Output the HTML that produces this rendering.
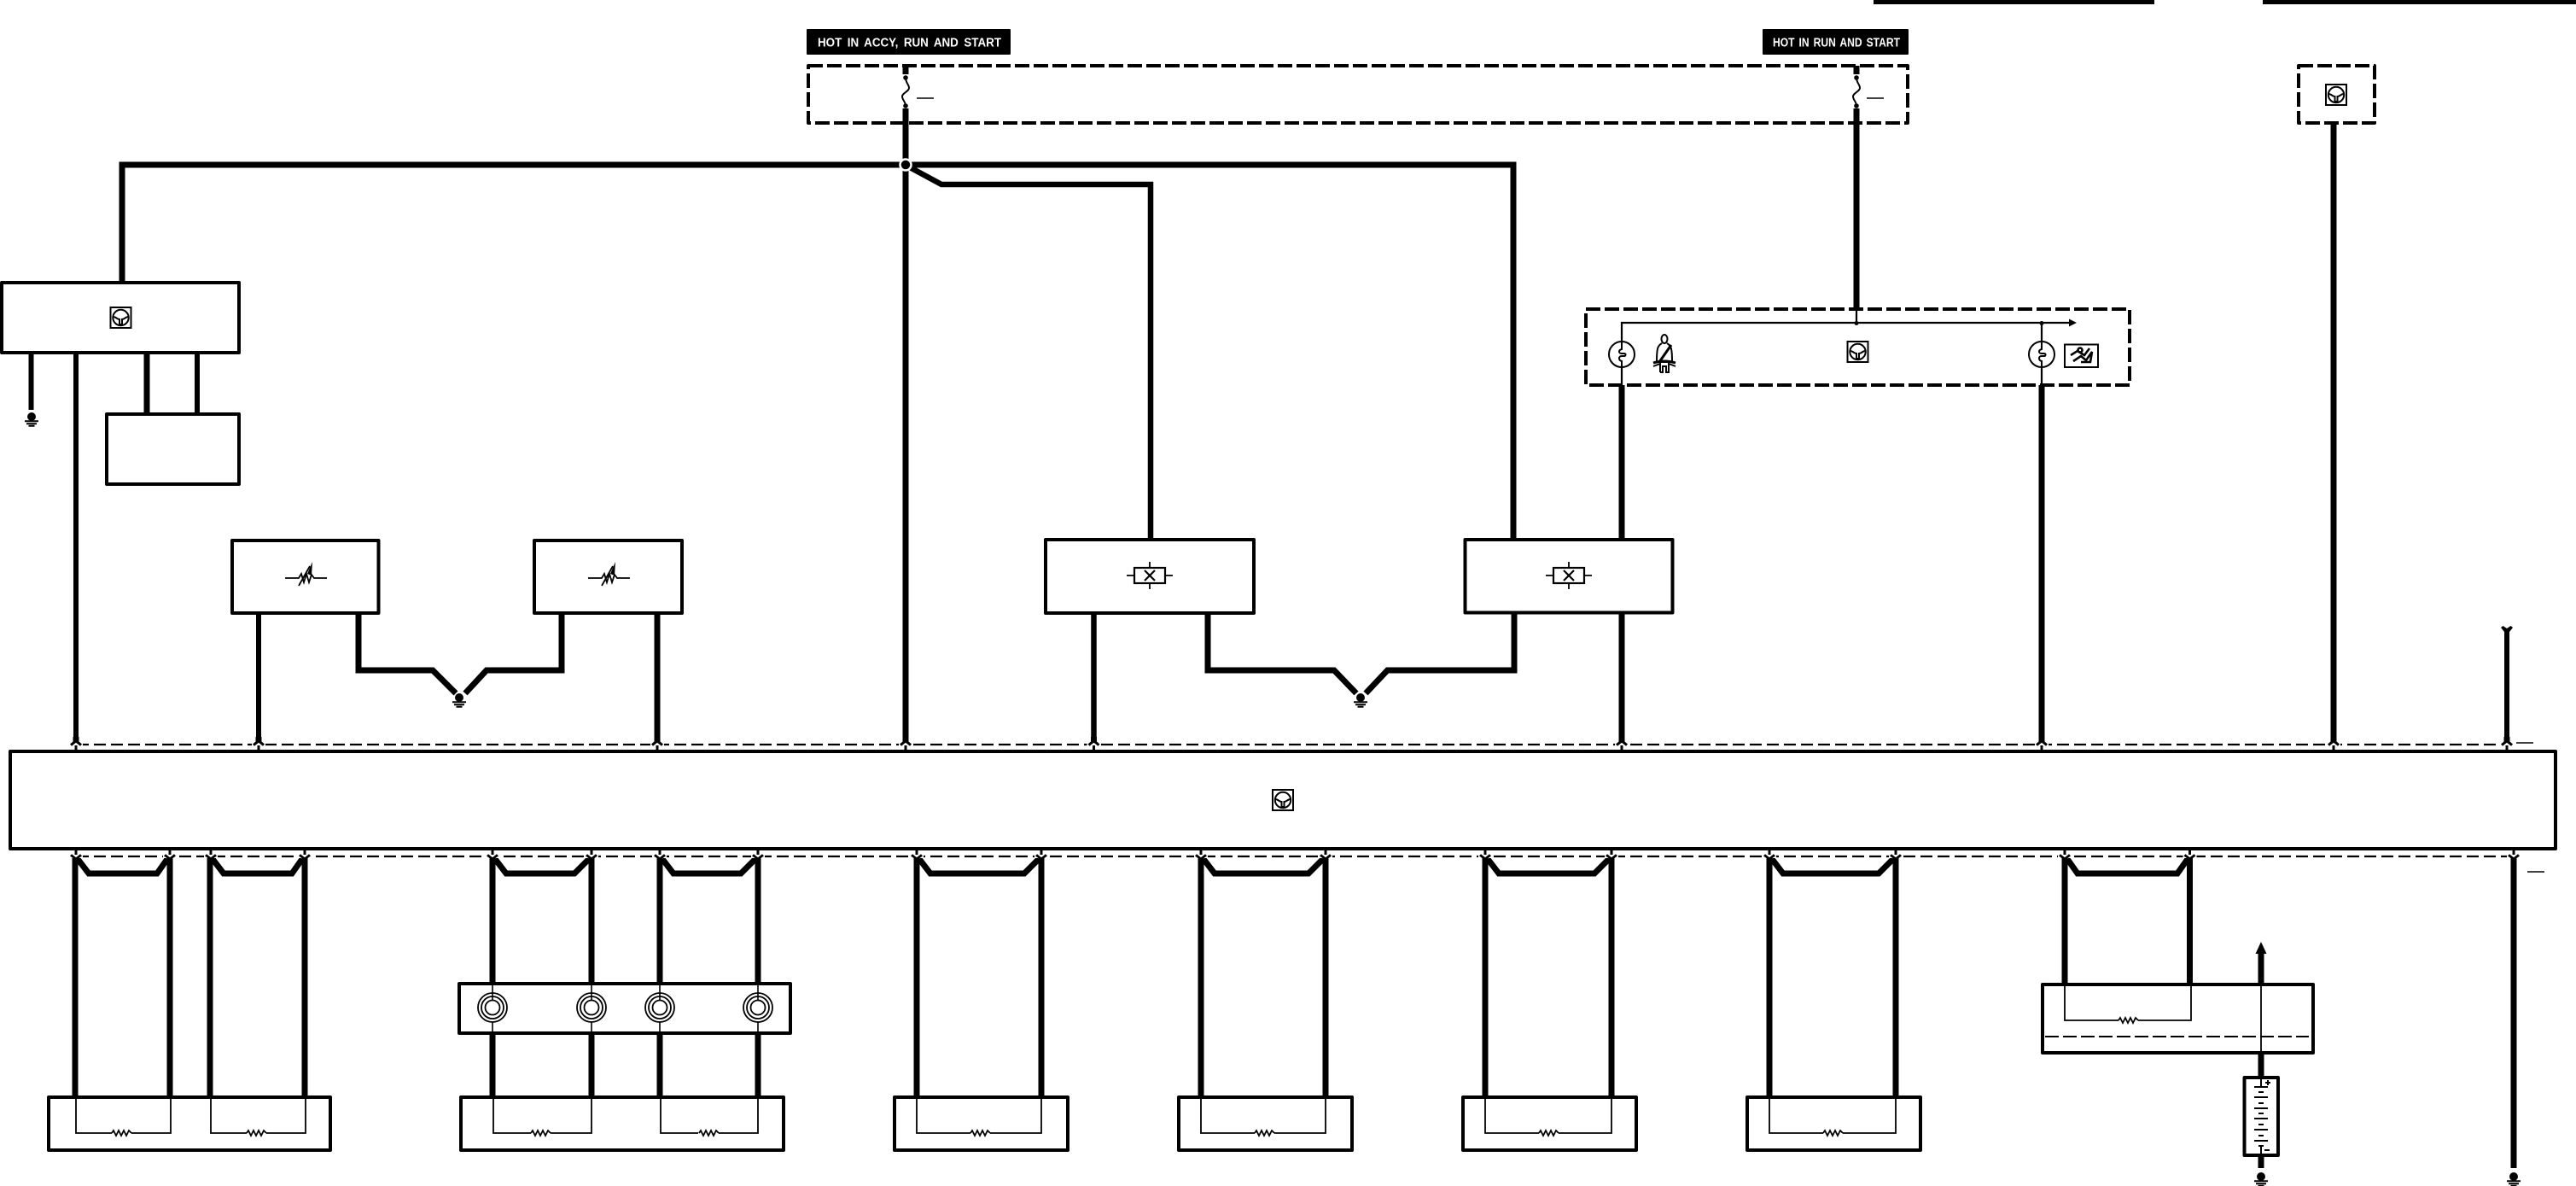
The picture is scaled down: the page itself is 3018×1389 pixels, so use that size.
<!DOCTYPE html>
<html>
<head>
<meta charset="utf-8">
<style>
html,body{margin:0;padding:0;background:#fff;width:3018px;height:1389px;overflow:hidden}
svg{display:block}
text{font-family:"Liberation Sans",sans-serif;font-weight:bold;fill:#fff;font-size:14.5px}
</style>
</head>
<body>
<svg xmlns="http://www.w3.org/2000/svg" width="3018" height="1389" viewBox="0 0 3018 1389">
<defs>
<g id="gnd">
<circle cx="0" cy="0" r="5" fill="#000"/>
<path d="M-8,5.2H8M-6,8.2H6M-3.500,10.800H3.500" stroke="#000" stroke-width="2" fill="none"/>
</g>
<g id="cu">
<path d="M-8,-3H8V5H-8Z" fill="#fff"/>
<path d="M-3.500,-9H3.500V-3.500L7,-0.500L5,1.800L0,-2.200L-5,1.800L-7,-0.500L-3.500,-3.500Z" fill="#000"/>
<path d="M0,1V8" stroke="#000" stroke-width="3"/>
</g>
<g id="cd">
<path d="M-8,-5H8V3H-8Z" fill="#fff"/>
<path d="M-3.500,8H3.500V3L7,0.500L5,-1.800L0,2.200L-5,-1.800L-7,0.500L-3.500,3Z" fill="#000"/>
<path d="M0,-1V-8" stroke="#000" stroke-width="3"/>
</g>
<g id="sw">
<rect x="-12" y="-12" width="24" height="24" fill="#fff" stroke="#000" stroke-width="2"/>
<circle cx="0" cy="0" r="9.200" fill="none" stroke="#000" stroke-width="2"/>
<path d="M-9,-1C-5,-1 -5,2 -1.500,2V8H1.500V2C5,2 5,-1 9,-1" fill="none" stroke="#000" stroke-width="2"/>
</g>
<path id="res" d="M0,0L2,-3L5,3L8,-3L11,3L14,-3L17,3L20,-3L23,0" fill="none" stroke="#000" stroke-width="1.800"/>
<g id="tune">
<path d="M-24,0H-8L-5,-5L-2,5L1,-5L4,5L7,-4L10,0H25" fill="none" stroke="#000" stroke-width="1.800"/>
<path d="M-8,9L5,-14" stroke="#000" stroke-width="1.800"/>
<path d="M8,-19L2,-5L7,-3Z" fill="#000"/>
</g>
<g id="xb">
<rect x="-18" y="-9" width="36" height="18" fill="#fff" stroke="#000" stroke-width="2.200"/>
<path d="M-6,-6L6,6M6,-6L-6,6" stroke="#000" stroke-width="2.200"/>
<path d="M-27,0H-18M18,0H27M0,-16V-9M0,9V16" stroke="#000" stroke-width="1.800"/>
</g>
<g id="lamp">
<circle cx="0" cy="0" r="15" fill="#fff" stroke="#000" stroke-width="2"/>
<path d="M0,-15V-6C-4,-5 -4,-1 0,-1H3C5,-1 5,2 3,2H0C-4,2 -4,7 0,8V15" fill="none" stroke="#000" stroke-width="2"/>
</g>
<g id="coil" fill="none" stroke="#000" stroke-width="1.800">
<circle cx="0" cy="0" r="17"/>
<circle cx="0" cy="0" r="13"/>
<circle cx="0" cy="0" r="8.500"/>
<path d="M0,-29V-8M0,17V30" stroke-width="1.600"/>
</g>
<g id="fuse">
<path d="M0,0V10" stroke="#000" stroke-width="7"/>
<circle cx="0" cy="14" r="2.800" fill="#000"/>
<circle cx="0" cy="47" r="2.800" fill="#000"/>
<path d="M0,14C0,20 4,22 4,26C4,30 -4,32 -4,36C-4,40 0,42 0,47" fill="none" stroke="#000" stroke-width="2"/>
<path d="M0,50V67" stroke="#000" stroke-width="7"/>
</g>
</defs>

<rect width="3018" height="1389" fill="#fff"/>

<!-- top bars -->
<rect x="2195" y="0" width="329" height="5" fill="#000"/>
<rect x="2651" y="0" width="367" height="5" fill="#000"/>

<!-- tags -->
<rect x="945" y="34" width="239" height="30" rx="1" fill="#000"/>
<text x="958" y="54.500" textLength="215" lengthAdjust="spacingAndGlyphs" style="word-spacing:3px">HOT IN ACCY, RUN AND START</text>
<rect x="2065" y="34" width="171" height="30" rx="1" fill="#000"/>
<text x="2077" y="54.500" textLength="149" lengthAdjust="spacingAndGlyphs" style="word-spacing:2px">HOT IN RUN AND START</text>

<!-- dashed enclosures -->
<g fill="none" stroke="#000" stroke-width="4" stroke-dasharray="17 5" stroke-linejoin="round">
<rect x="947" y="77" width="1288" height="67"/>
<rect x="2693" y="77" width="89" height="67"/>
<rect x="1858" y="362" width="637" height="89"/>
</g>

<!-- fuses -->
<use href="#fuse" x="1061" y="77"/>
<use href="#fuse" x="2175" y="77"/>
<path d="M1074,115H1094M2187,115H2207" stroke="#000" stroke-width="1.500"/>

<!-- main power wires -->
<g fill="none" stroke="#000" stroke-width="7">
<path d="M143,331V193H1773V632" stroke-miterlimit="10"/>
<path d="M1061,144V868"/>
<path d="M1066,196L1103,216H1348V632" stroke-width="6.500"/>
<path d="M2175,144V362"/>
<path d="M2734,144V868"/>
<path d="M1900,451V632"/>
<path d="M1900,718V868"/>
<path d="M2392,451V868"/>
<path d="M2937,738V868" stroke-width="6"/>
<path d="M89,413V868" stroke-width="6"/>
<path d="M36.500,413V480" stroke-width="6"/>
<path d="M172,413V485"/>
<path d="M231,413V485" stroke-width="6"/>
<path d="M303,718V868" stroke-width="6"/>
<path d="M770,718V868"/>
<path d="M1281.500,718V868" stroke-width="6.500"/>
<!-- grounds V wires -->
<path d="M420,718V785H507L534,812" stroke-width="7"/>
<path d="M545,812L570,785H658V718" stroke-width="7"/>
<path d="M1415,718V785H1563L1589,812" stroke-width="7"/>
<path d="M1600,812L1625.500,785H1774V718" stroke-width="7"/>
</g>
<circle cx="1061" cy="193" r="6.500" fill="#000" stroke="#fff" stroke-width="2.500"/>

<!-- Y at top of right wire -->
<path d="M-7,-2L-4.500,-4L0,-1L4.500,-4L7,-2L3,3V8H-3V3Z" transform="translate(2937,737)" fill="#000"/>

<!-- boxes upper -->
<g fill="#fff" stroke="#000" stroke-width="4" stroke-linejoin="round">
<rect x="2" y="331" width="278" height="82"/>
<rect x="125" y="485" width="155" height="82"/>
<rect x="272" y="633" width="171.500" height="85"/>
<rect x="626" y="633" width="173" height="85"/>
<rect x="1225" y="632" width="244" height="86"/>
<rect x="1716.500" y="632" width="243" height="85.500"/>
</g>
<use href="#sw" x="141.500" y="372"/>
<use href="#tune" x="358" y="677"/>
<use href="#tune" x="713" y="677"/>
<use href="#xb" x="1347" y="674"/>
<use href="#xb" x="1838" y="674"/>

<!-- grounds -->
<use href="#gnd" x="37" y="488"/>
<use href="#gnd" x="538" y="817"/>
<use href="#gnd" x="1594" y="817"/>
<use href="#gnd" x="2649" y="1378"/>
<use href="#gnd" x="2945" y="1378"/>

<!-- indicator box -->
<path d="M1900,451V378H2426" fill="none" stroke="#000" stroke-width="2.200"/>
<path d="M2175,362V378M2392,378V451" fill="none" stroke="#000" stroke-width="2.200"/>
<path d="M2424,373.500L2433,378L2424,382.500Z" fill="#000"/>
<circle cx="2175" cy="378.500" r="2.500" fill="#000"/>
<circle cx="2392" cy="378.500" r="2.500" fill="#000"/>
<use href="#lamp" x="1900" y="415"/>
<use href="#lamp" x="2392" y="415"/>
<use href="#sw" x="2176.500" y="412"/>
<use href="#sw" x="2737" y="111"/>
<!-- seatbelt person -->
<g fill="none" stroke="#000" stroke-width="2">
<ellipse cx="1950" cy="397" rx="3.500" ry="5"/>
<path d="M1947,402C1942,405 1941,408 1941,424H1959C1959,408 1958,405 1953,402"/>
<path d="M1944,424L1958,404" stroke-width="3"/>
<path d="M1937,425Q1950,421 1963,425" stroke-width="3"/>
<path d="M1937,429L1945,426V436M1945,436H1948V429H1952V436H1955V426L1963,429"/>
</g>
<!-- airbag icon -->
<rect x="2419" y="403.500" width="39" height="26.500" fill="#fff" stroke="#000" stroke-width="2"/>
<g fill="none" stroke="#000" stroke-width="2.600">
<circle cx="2437" cy="410" r="2.500"/>
<path d="M2426,416L2434,411L2442,416L2448,408M2429,423L2438,417L2444,422L2451,412L2449,424H2438"/>
</g>

<!-- main bus -->
<rect x="12" y="880" width="2982" height="114" fill="#fff" stroke="#000" stroke-width="4" stroke-linejoin="round"/>
<use href="#sw" x="1503" y="937"/>

<!-- bus dashed lines -->
<path d="M90,872H2930" fill="none" stroke="#000" stroke-width="2.200" stroke-dasharray="14 6"/>
<path d="M90,1003H2938" fill="none" stroke="#000" stroke-width="2.200" stroke-dasharray="14 6"/>
<path d="M2948,870H2968M2961,1021H2981" stroke="#000" stroke-width="1.500"/>

<!-- top bus connectors -->
<use href="#cu" x="89" y="872"/>
<use href="#cu" x="303" y="872"/>
<use href="#cu" x="770" y="872"/>
<use href="#cu" x="1061" y="872"/>
<use href="#cu" x="1281.500" y="872"/>
<use href="#cu" x="1900" y="872"/>
<use href="#cu" x="2392" y="872"/>
<use href="#cu" x="2734" y="872"/>
<use href="#cu" x="2937" y="872"/>

<!-- lower wires -->
<g fill="none" stroke="#000" stroke-width="7">
<path d="M88,1005V1285M199,1005V1285"/>
<path d="M246,1005V1285M357,1005V1285"/>
<path d="M577,1005V1151M693,1005V1151M773,1005V1151M888,1005V1151"/>
<path d="M577,1210V1285M693,1210V1285M773,1210V1285M888,1210V1285"/>
<path d="M1074,1005V1285M1220,1005V1285"/>
<path d="M1407,1005V1285M1553,1005V1285"/>
<path d="M1740,1005V1285M1888,1005V1285"/>
<path d="M2073,1005V1285M2221,1005V1285"/>
<path d="M2419,1005V1153M2565.500,1005V1153"/>
<!-- trapezoids -->
<path d="M91,1006L104,1023H184L196,1006"/>
<path d="M249,1006L262,1023H342L354,1006"/>
<path d="M580,1006L593,1023H673L690,1006"/>
<path d="M776,1006L789,1023H868L885,1006"/>
<path d="M1077,1006L1090,1023H1200L1217,1006"/>
<path d="M1410,1006L1423,1023H1533L1550,1006"/>
<path d="M1743,1006L1756,1023H1868L1885,1006"/>
<path d="M2076,1006L2089,1023H2201L2218,1006"/>
<path d="M2422,1006L2434,1023H2551L2563,1006"/>
<!-- right and battery -->
<path d="M2945,1006V1368"/>
<path d="M2649,1115V1153"/>
<path d="M2649,1233V1262"/>
<path d="M2649,1353V1368"/>
</g>
<path d="M2649,1103L2655.500,1117H2642.500Z" fill="#000"/>

<!-- bottom bus connectors -->
<use href="#cd" x="89" y="1002"/>
<use href="#cd" x="199" y="1002"/>
<use href="#cd" x="247" y="1002"/>
<use href="#cd" x="357" y="1002"/>
<use href="#cd" x="577" y="1002"/>
<use href="#cd" x="693" y="1002"/>
<use href="#cd" x="773" y="1002"/>
<use href="#cd" x="888" y="1002"/>
<use href="#cd" x="1074" y="1002"/>
<use href="#cd" x="1220" y="1002"/>
<use href="#cd" x="1407" y="1002"/>
<use href="#cd" x="1553" y="1002"/>
<use href="#cd" x="1740" y="1002"/>
<use href="#cd" x="1888" y="1002"/>
<use href="#cd" x="2073" y="1002"/>
<use href="#cd" x="2221" y="1002"/>
<use href="#cd" x="2419" y="1002"/>
<use href="#cd" x="2565.500" y="1002"/>
<use href="#cd" x="2945" y="1002"/>

<!-- lower boxes -->
<g fill="#fff" stroke="#000" stroke-width="4" stroke-linejoin="round">
<rect x="57" y="1285" width="330" height="62"/>
<rect x="538" y="1152" width="388" height="58"/>
<rect x="540" y="1285" width="378" height="62"/>
<rect x="1048" y="1285" width="203" height="62"/>
<rect x="1381" y="1285" width="203" height="62"/>
<rect x="1714" y="1285" width="203" height="62"/>
<rect x="2047" y="1285" width="203" height="62"/>
<rect x="2393" y="1153" width="317" height="80"/>
<rect x="2629.500" y="1262" width="39.500" height="91"/>
</g>

<!-- inner thin loops -->
<g fill="none" stroke="#000" stroke-width="1.800">
<path d="M89,1285V1327H131M154,1327H200V1285"/>
<path d="M247,1285V1327H289M312,1327H358V1285"/>
<path d="M578,1285V1327H622M645,1327H693V1285"/>
<path d="M774,1285V1327H818M842,1327H888V1285"/>
<path d="M1074,1285V1327H1137M1160,1327H1220V1285"/>
<path d="M1407,1285V1327H1470M1493,1327H1553V1285"/>
<path d="M1740,1285V1327H1803M1826,1327H1888V1285"/>
<path d="M2073,1285V1327H2136M2159,1327H2221V1285"/>
<path d="M2419,1153V1195H2482M2505,1195H2567V1153"/>
<path d="M2649,1153V1233"/>
</g>
<use href="#res" x="131" y="1327"/>
<use href="#res" x="289" y="1327"/>
<use href="#res" x="622" y="1327"/>
<use href="#res" x="819" y="1327"/>
<use href="#res" x="1137" y="1327"/>
<use href="#res" x="1470" y="1327"/>
<use href="#res" x="1803" y="1327"/>
<use href="#res" x="2136" y="1327"/>
<use href="#res" x="2482" y="1195"/>
<path d="M2396,1214H2705" fill="none" stroke="#000" stroke-width="2" stroke-dasharray="16 5"/>

<!-- coils -->
<use href="#coil" x="577" y="1180"/>
<use href="#coil" x="693" y="1180"/>
<use href="#coil" x="773" y="1180"/>
<use href="#coil" x="888" y="1180"/>

<!-- battery -->
<g stroke="#000" fill="none">
<path d="M2649,1262V1273M2649,1342V1353" stroke-width="2"/>
<path d="M2641,1273H2657M2641,1285H2657M2641,1298H2657M2641,1310H2657M2641,1323H2657M2641,1336H2657" stroke-width="2"/>
<path d="M2646,1279H2652M2646,1292H2652M2646,1304H2652M2646,1317H2652M2646,1330H2652M2646,1342H2652" stroke-width="2"/>
<path d="M2654,1268H2660M2657,1265V1271M2653,1347H2659" stroke-width="2"/>
</g>
</svg>
</body>
</html>
